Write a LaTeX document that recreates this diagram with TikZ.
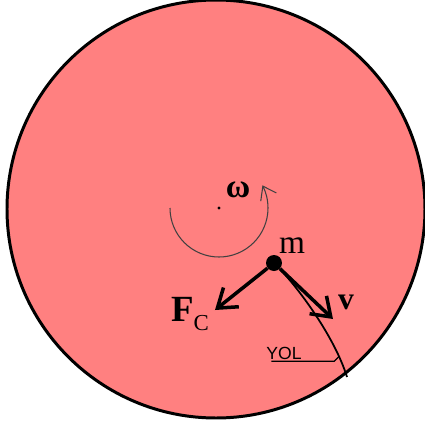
\documentclass[tikz,border=0pt]{standalone}
\usepackage{fontspec}
\setmainfont{Liberation Serif}
\newfontfamily\yolfont{Liberation Sans}
\usetikzlibrary{arrows.meta}
\definecolor{disk}{RGB}{255,128,128}

\begin{document}
\begin{tikzpicture}[x=0.02cm,y=-0.02cm,
    vec/.style={line width=2pt,arrows={-Straight Barb[length=10pt,width=14pt]}},
    rot/.style={line width=0.6pt,color=black!75,arrows={-Straight Barb[length=7pt,width=10pt]}},
    lbl/.style={font=\fontsize{19}{22}\selectfont}]
\useasboundingbox (0,0) rectangle (425,427);
\draw[fill=disk,line width=1.7pt] (216,209) circle (209);
% rotation
\coordinate (O) at (219,208);
\fill (O) circle (1.6);
\draw[rot] (170,208) arc[start angle=180,end angle=-27.6,radius=49];
\node[lbl] (omega) at (238,190) {\textbf{ω}};
% mass and vectors
\node[circle,fill=black,inner sep=0pt,minimum size=0.32cm] (m) at (274,263) {};
\node[lbl] (mlabel) at (292,246) {m};
\coordinate (fctip) at (215,310);
\coordinate (vtip) at (333,319);
\coordinate (rim) at (347,377);
\draw[vec] (m) -- (fctip);
\draw[vec] (m) -- (vtip);
\node[font=\fontsize{21}{24}\selectfont] (fc) at (190,314) {\textbf{F}\raisebox{-5pt}{\fontsize{13}{15}\selectfont C}};
\node[font=\fontsize{18}{21}\selectfont] (v) at (346,302) {\textbf{v}};
% path
\draw[line width=1pt] (m) .. controls (300,290) and (335,338) .. (rim) coordinate[pos=0.83] (yolpt);
\node[font=\yolfont\fontsize{10}{12}\selectfont,inner sep=1pt] (yol) at (284,353) {YOL};
\draw[line width=0.7pt] ([xshift=0.14cm]yol.south west) -- ([xshift=-0.1cm]yol.south west -| yolpt) -- (yolpt);

\end{tikzpicture}
\end{document}
